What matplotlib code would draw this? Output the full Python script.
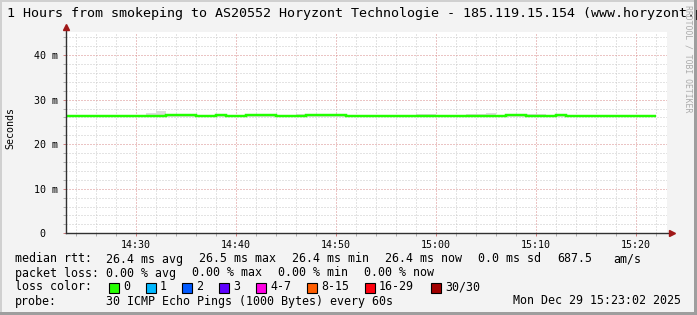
import matplotlib
matplotlib.use("Agg")
import matplotlib.pyplot as plt
import matplotlib.dates as mdates
from matplotlib.patches import Rectangle
from matplotlib.lines import Line2D
import numpy as np
import pandas as pd

# ---------------- data ----------------
start_time = "2025-12-29 14:23"
n_bins = 59
median_rtt = [26.4] * 10 + [26.6, 26.6, 26.6] + [26.4, 26.4] + [26.6] + [26.4, 26.4] \
    + [26.6, 26.6, 26.6] + [26.4, 26.4, 26.4] + [26.6, 26.6, 26.6, 26.6] + [26.4] * 16 \
    + [26.6, 26.6] + [26.4, 26.4, 26.4] + [26.6] + [26.4] * 9
smoke_hi = [26.5] * 8 + [27.0, 27.5] + [26.6] * 3 + [26.5] * 10 + [26.8] + [26.6] * 4 \
    + [26.5] * 7 + [26.8, 26.8] + [26.5] * 3 + [26.8, 26.8, 27.0] + [26.5] \
    + [26.6, 26.6] + [26.8, 26.8] + [26.5] + [26.6] + [26.5] * 9
smoke_lo = [26.2] * n_bins

title = "1 Hours from smokeping to AS20552 Horyzont Technologie - 185.119.15.154 (www.horyzont.pl)"
y_ticks = [0, 10, 20, 30, 40]
y_ticklabels = ["0  ", "10 m", "20 m", "30 m", "40 m"]
rtt_label = "median rtt:"
rtt_stats = ["26.4 ms avg", "26.5 ms max", "26.4 ms min", "26.4 ms now", "0.0 ms sd", "687.5", "am/s"]
loss_label = "packet loss:"
loss_stats = ["0.00 % avg", "0.00 % max", "0.00 % min", "0.00 % now"]
lc_label = "loss color:"
lc_names = ["0", "1", "2", "3", "4-7", "8-15", "16-29", "30/30"]
lc_colors = ["#26ff00", "#00b8ff", "#0059ff", "#5e00ff", "#ff00e3", "#ff5e00", "#ff000e", "#a10000"]
probe_label = "probe:"
probe_text = "30 ICMP Echo Pings (1000 Bytes) every 60s"
stamp = "Mon Dec 29 15:23:02 2025"
watermark = "RRDTOOL / TOBI OETIKER"

# ---------------- figure ----------------
W, H = 697, 315
fig = plt.figure(figsize=(W / 100, H / 100), dpi=100)
fig.patch.set_facecolor("#f3f3f3")
MONO = "DejaVu Sans Mono"

def fx(x):
    return x / W

def fy(y):
    return 1 - y / H

ax_l, ax_r, ax_t, ax_b = 66, 667, 32, 233.3
ax = fig.add_axes([fx(ax_l), fy(ax_b), (ax_r - ax_l) / W, (ax_b - ax_t) / H])
ax.set_facecolor("white")

times = pd.date_range(start_time, periods=n_bins + 1, freq="min")
edges = mdates.date2num(times.to_pydatetime())
left_edges = edges[:-1]
width = edges[1] - edges[0]

med = np.array(median_rtt)
hi = np.array(smoke_hi)
lo = np.array(smoke_lo)

ax.bar(left_edges, hi - lo, bottom=lo, width=width, align="edge",
       color="#dcdcdc", linewidth=0, zorder=2)
ax.stairs(med, edges, color="#22ff00", linewidth=1.75, baseline=None, zorder=3)

x0 = edges[0]
x1 = x0 + (ax_r - ax_l) / 10.0 * width
ax.set_xlim(x0, x1)
ax.set_ylim(0, (ax_b - ax_t) / 4.457)

ax.xaxis.set_major_locator(mdates.MinuteLocator(byminute=range(0, 60, 10)))
ax.xaxis.set_minor_locator(mdates.MinuteLocator(byminute=range(0, 60, 2)))
ax.xaxis.set_major_formatter(mdates.DateFormatter("%H:%M"))
ax.set_yticks(y_ticks)
ax.set_yticklabels(y_ticklabels)
ax.set_yticks(np.arange(0, 46, 2), minor=True)

dot = (0, (1, 2))
ax.grid(which="minor", color="#c8c8c8", linestyle=dot, linewidth=0.72, zorder=1)
ax.grid(which="major", color="#d88a8a", linestyle=dot, linewidth=0.72, zorder=1)
ax.set_axisbelow(True)

ax.tick_params(which="major", length=2, width=0.72, color="#d08080", direction="out",
               labelsize=7.2, labelfontfamily=MONO, labelcolor="#000000")
ax.tick_params(which="minor", length=2, width=0.72, color="#b0b0b0", direction="out")
ax.tick_params(axis="y", which="major", pad=4)
ax.tick_params(axis="x", which="major", pad=3)

for s in ax.spines.values():
    s.set_visible(False)

# axes with arrows
axis_col = "#303030"
arrow_col = "#a01818"
ax.add_line(Line2D([0, 0], [0, 1 + 4 / (ax_b - ax_t)], transform=ax.transAxes,
                   color=axis_col, linewidth=1.0, clip_on=False, zorder=5))
ax.add_line(Line2D([0, 1 + 2 / (ax_r - ax_l)], [0, 0], transform=ax.transAxes,
                   color=axis_col, linewidth=1.0, clip_on=False, zorder=5))
ax.plot([0], [1 + 5 / (ax_b - ax_t)], marker="^", markersize=4.5, color=arrow_col,
        transform=ax.transAxes, clip_on=False, zorder=6, linestyle="none")
ax.plot([1 + 5 / (ax_r - ax_l)], [0], marker=">", markersize=4.5, color=arrow_col,
        transform=ax.transAxes, clip_on=False, zorder=6, linestyle="none")

# title / labels
fig.text(fx(7), fy(14), title, family=MONO, size=9.6, ha="left", va="center")
fig.text(fx(10), fy(128), "Seconds", family=MONO, size=7.2, rotation=90,
         ha="center", va="center")
fig.text(fx(688), fy(5), watermark, family=MONO, size=5.9, rotation=-90,
         ha="center", va="top", color="#ababab")

# legend
LS = 8.4
def lt(x, y, s, **kw):
    fig.text(fx(x - 1), fy(y), s, family=MONO, size=LS, va="center", **kw)

lt(16, 259, rtt_label)
for s, x in zip(rtt_stats, [107, 200, 293, 386, 479, 558, 614]):
    lt(x, 259, s)
lt(16, 273, loss_label)
for s, x in zip(loss_stats, [107, 193, 279, 365]):
    lt(x, 273, s)
lt(16, 287, lc_label)
for name, col, x in zip(lc_names, lc_colors, [109, 146, 182, 219, 256, 307, 365, 431]):
    fig.add_artist(Rectangle((fx(x), fy(292.5)), 10 / W, 10 / H, transform=fig.transFigure,
                             facecolor=col, edgecolor="black", linewidth=0.8))
    lt(x + 15, 287, name)
lt(16, 301, probe_label)
lt(107, 301, probe_text)
fig.text(fx(681), fy(301), stamp, family=MONO, size=LS, va="center", ha="right")

# border
fig.add_artist(Rectangle((0, fy(2)), 1, 2 / H, transform=fig.transFigure,
                         facecolor="#d0d0d0", edgecolor="none"))
fig.add_artist(Rectangle((0, 0), 2 / W, 1, transform=fig.transFigure,
                         facecolor="#d0d0d0", edgecolor="none"))
fig.add_artist(Rectangle((0, 0), 1, 3 / H, transform=fig.transFigure,
                         facecolor="#9e9e9e", edgecolor="none"))
fig.add_artist(Rectangle((fx(694), 0), 3 / W, 1, transform=fig.transFigure,
                         facecolor="#9e9e9e", edgecolor="none"))

fig.savefig("out.png", dpi=100, facecolor=fig.get_facecolor())
